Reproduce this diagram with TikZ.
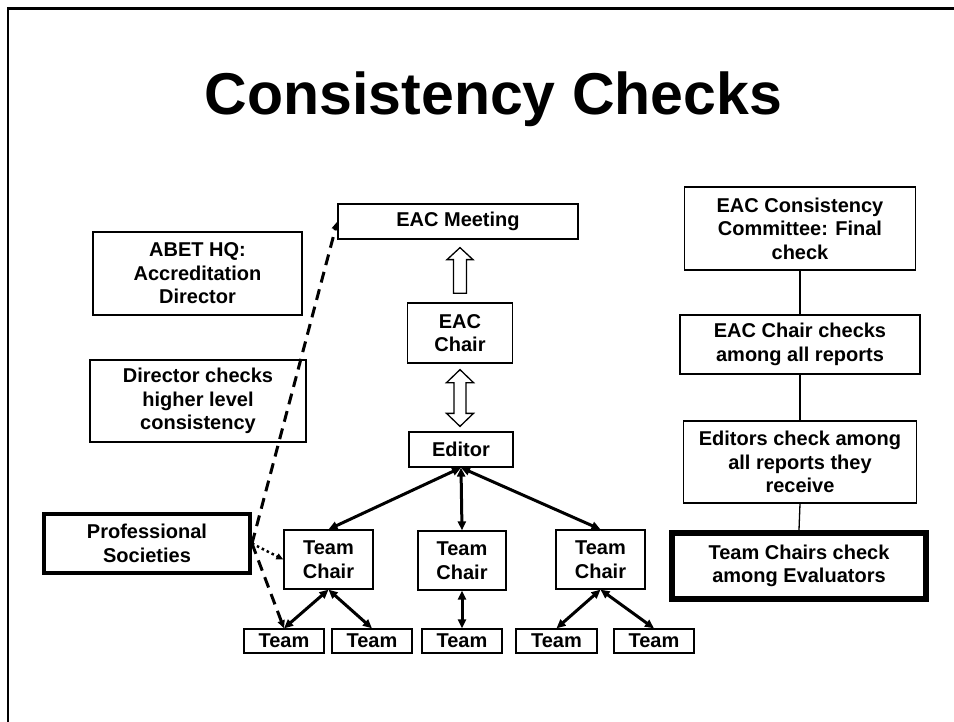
\documentclass[tikz,border=0pt]{standalone}
\usepackage{fontspec}
\setmainfont{Liberation Sans}
\usetikzlibrary{arrows.meta,calc}

\tikzset{
  box/.style={draw, line width=1.3pt, align=center, inner sep=0pt,
    font=\bfseries\fontsize{20}{23.5}\selectfont},
  thickbox/.style={box, line width=4pt},
  hollow/.style={draw, line width=1.3pt, fill=white},
  link/.style={line width=3pt, {Triangle[length=9pt,width=8pt]}-{Triangle[length=9pt,width=8pt]}},
  dashlink/.style={line width=3pt, dash pattern=on 11pt off 7pt, -{Triangle[length=8pt,width=7pt]}},
  dotlink/.style={line width=2.5pt, dash pattern=on 2.5pt off 3pt, -{Triangle[length=7pt,width=6pt]}},
  thinlink/.style={line width=1.3pt}
}

\begin{document}
\begin{tikzpicture}[x=1pt,y=-1pt]
			\useasboundingbox (0,0) rectangle (954,722);
			\draw[line width=2.5pt] (8,722) -- (8,8.5) -- (954,8.5);
			\node[font=\bfseries\fontsize{59}{59}\selectfont, anchor=base] (title) at (493.5,115) {Consistency Checks};
			% left side
			\node[box, minimum width=209pt, minimum height=83pt] (hq) at (197.5,273.5) {ABET HQ:\\Accreditation\\Director};
			\node[box, minimum width=216pt, minimum height=82pt] (dir) at (198,401) {Director checks\\higher level\\consistency};
			\node[thickbox, minimum width=206pt, minimum height=59pt] (ps) at (147,543.5) {Professional\\Societies};
			% middle tree
			\node[box, minimum width=240pt, minimum height=35pt] (meet) at (458,221.5) {EAC Meeting};
			\node[box, minimum width=105pt, minimum height=60pt] (eacchair) at (460,333) {EAC\\Chair};
			\node[box, minimum width=104pt, minimum height=35pt] (editor) at (461,449.5) {Editor};
			\node[box, minimum width=89pt, minimum height=59pt] (tc1) at (328.5,559.5) {Team\\Chair};
			\node[box, minimum width=88pt, minimum height=59pt] (tc2) at (462,560.5) {Team\\Chair};
			\node[box, minimum width=89pt, minimum height=59pt] (tc3) at (600.5,559.5) {Team\\Chair};
			\node[box, minimum width=80pt, minimum height=24pt] (t1) at (284,641) {Team};
			\node[box, minimum width=80pt, minimum height=24pt] (t2) at (372,641) {Team};
			\node[box, minimum width=80pt, minimum height=24pt] (t3) at (462,641) {Team};
			\node[box, minimum width=81pt, minimum height=24pt] (t4) at (556.5,641) {Team};
			\node[box, minimum width=80pt, minimum height=24pt] (t5) at (654,641) {Team};
			% right column
			\node[box, minimum width=231pt, minimum height=83pt] (cc) at (800,228.5) {EAC Consistency\\Committee: Final\\check};
			\node[box, minimum width=240pt, minimum height=59pt] (ecc) at (800,344.5) {EAC Chair checks\\among all reports};
			\node[box, minimum width=233pt, minimum height=82pt] (eds) at (800,462) {Editors check among\\all reports they\\receive};
			\node[thickbox, line width=6pt, minimum width=254pt, minimum height=66pt] (tcc) at (799,566) {Team Chairs check\\among Evaluators};
			\draw[thinlink] (cc.south) -- (ecc.north);
			\draw[thinlink] (ecc.south) -- (eds.north);
			\draw[thinlink] (eds.south) -- (tcc.north);
			% hollow arrows
			\coordinate (up0) at ($(eacchair.north)+(0,-9)$);
			\coordinate (up1) at ($(up0 |- meet.south)+(0,8)$);
			\draw[hollow] ($(up0)+(-6.5,0)$) -- ($(up1)+(-6.5,12)$) -- ($(up1)+(-13,12)$) -- (up1)
				-- ($(up1)+(13,12)$) -- ($(up1)+(6.5,12)$) -- ($(up0)+(6.5,0)$) -- cycle;
			\coordinate (dn0) at ($(eacchair.south)+(0,6)$);
			\coordinate (dn1) at ($(dn0 |- editor.north)+(0,-5)$);
			\draw[hollow] (dn0) -- ($(dn0)+(13.5,13)$) -- ($(dn0)+(6,13)$) -- ($(dn1)+(6,-13)$) -- ($(dn1)+(13.5,-13)$)
				-- (dn1) -- ($(dn1)+(-13.5,-13)$) -- ($(dn1)+(-6,-13)$) -- ($(dn0)+(-6,13)$) -- ($(dn0)+(-13.5,13)$) -- cycle;
			% links
			\draw[link] (editor.south) -- (tc1.north);
			\draw[link] (editor.south) -- (tc2.north);
			\draw[link] (editor.south) -- (tc3.north);
			\draw[link] (tc1.south) -- (t1.north);
			\draw[link] (tc1.south) -- (t2.north);
			\draw[link] (tc2.south) -- (t3.north);
			\draw[link] (tc3.south) -- (t4.north);
			\draw[link] (tc3.south) -- (t5.north);
			\draw[dashlink] (ps.east) -- (meet.west);
			\draw[dashlink] (ps.east) -- (t1.north);
			\draw[dotlink] (ps.east) -- (tc1.west);
		\end{tikzpicture}
\end{document}
